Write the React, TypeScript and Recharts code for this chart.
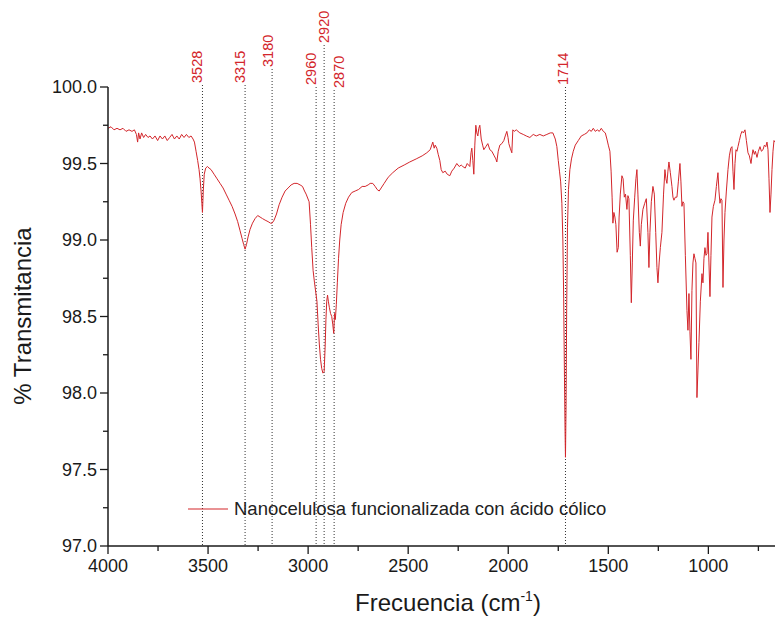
import { LineChart, Line, XAxis, YAxis, ReferenceLine, Legend } from "recharts";

const FONT = '"Liberation Sans", Arial, sans-serif';
const LINE_COLOR = "#d3262b";
const PEAK_COLOR = "#d3262b";
const AXIS_COLOR = "#1a1a1a";

// FTIR spectrum (cm-1 -> %T)
const wavenumbers = [
  4000, 3985, 3970, 3955, 3940, 3925, 3910, 3895, 3880, 3868, 3858, 3852, 3847, 3840, 3832, 3822,
  3812, 3800, 3790, 3778, 3765, 3752, 3740, 3728, 3716, 3704, 3692, 3680, 3668, 3656, 3644, 3632,
  3620, 3608, 3596, 3585, 3575, 3568, 3560, 3552, 3545, 3540, 3535, 3531, 3528, 3524, 3519, 3512,
  3503, 3495, 3485, 3470, 3455, 3440, 3425, 3410, 3395, 3380, 3365, 3352, 3340, 3330, 3322, 3315,
  3308, 3300, 3290, 3278, 3265, 3252, 3240, 3228, 3215, 3200, 3188, 3180, 3170, 3158, 3145, 3130,
  3115, 3100, 3085, 3070, 3055, 3040, 3028, 3018, 3010, 2995, 2988, 2982, 2975, 2968, 2962, 2956,
  2950, 2944, 2938, 2932, 2926, 2920, 2915, 2911, 2907, 2903, 2899, 2894, 2888, 2882, 2877, 2872,
  2868, 2864, 2859, 2854, 2848, 2842, 2835, 2825, 2812, 2798, 2782, 2765, 2748, 2730, 2715, 2700,
  2690, 2677, 2665, 2655, 2645, 2635, 2620, 2600, 2577, 2550, 2520, 2492, 2460, 2430, 2407, 2390,
  2377, 2370, 2365, 2357, 2350, 2342, 2335, 2327, 2315, 2305, 2292, 2282, 2270, 2257, 2245, 2235,
  2227, 2215, 2205, 2192, 2186, 2182, 2177, 2172, 2167, 2162, 2157, 2152, 2147, 2142, 2135, 2128,
  2122, 2112, 2102, 2092, 2082, 2070, 2062, 2057, 2050, 2042, 2032, 2022, 2015, 2007, 2001, 1997,
  1990, 1982, 1977, 1970, 1960, 1942, 1925, 1910, 1892, 1875, 1860, 1842, 1825, 1807, 1790, 1777,
  1765, 1757, 1750, 1744, 1738, 1732, 1727, 1723, 1719, 1716, 1714, 1711, 1708, 1704, 1699, 1692,
  1684, 1675, 1665, 1650, 1635, 1620, 1607, 1595, 1585, 1575, 1565, 1555, 1545, 1535, 1525, 1515,
  1507, 1500, 1492, 1486, 1481, 1477, 1472, 1467, 1462, 1456, 1450, 1446, 1440, 1432, 1426, 1420,
  1414, 1407, 1402, 1397, 1390, 1385, 1380, 1375, 1368, 1362, 1357, 1352, 1345, 1340, 1335, 1327,
  1318, 1310, 1302, 1297, 1292, 1285, 1277, 1270, 1263, 1257, 1252, 1246, 1240, 1232, 1224, 1217,
  1212, 1207, 1202, 1197, 1190, 1182, 1177, 1172, 1165, 1157, 1150, 1142, 1137, 1132, 1127, 1122,
  1115, 1107, 1102, 1097, 1092, 1087, 1082, 1077, 1072, 1067, 1062, 1057, 1052, 1047, 1040, 1032,
  1027, 1022, 1017, 1012, 1007, 1002, 997, 992, 987, 982, 975, 967, 960, 952, 947, 942,
  937, 932, 927, 922, 917, 910, 902, 895, 888, 882, 877, 872, 867, 862, 857, 852,
  845, 838, 832, 825, 817, 810, 802, 795, 787, 782, 777, 770, 765, 757, 750, 742,
  735, 727, 720, 713, 707, 702, 697, 692, 687, 682, 677, 672, 667,
];

const transmittance = [
  99.73, 99.74, 99.72, 99.73, 99.72, 99.73, 99.71, 99.72, 99.71, 99.72, 99.69, 99.64, 99.7, 99.66, 99.7, 99.67,
  99.69, 99.67, 99.68, 99.66, 99.68, 99.65, 99.68, 99.66, 99.68, 99.65, 99.67, 99.69, 99.66, 99.68, 99.66, 99.69,
  99.67, 99.69, 99.67, 99.68, 99.66, 99.64, 99.58, 99.52, 99.46, 99.4, 99.32, 99.24, 99.18, 99.32, 99.43, 99.47,
  99.48, 99.47, 99.46, 99.43, 99.4, 99.37, 99.34, 99.3, 99.26, 99.22, 99.17, 99.12, 99.06, 99.01, 98.97, 98.94,
  98.97, 99.02, 99.07, 99.11, 99.14, 99.16, 99.15, 99.14, 99.13, 99.12, 99.11, 99.11, 99.13, 99.17, 99.23, 99.28,
  99.32, 99.34, 99.36, 99.37, 99.37, 99.36, 99.35, 99.32, 99.3, 99.25, 99.1, 98.95, 98.8, 98.72, 98.66, 98.6,
  98.45, 98.32, 98.22, 98.16, 98.13, 98.14, 98.3, 98.48, 98.6, 98.64, 98.6, 98.56, 98.52, 98.5, 98.45, 98.39,
  98.52, 98.48, 98.58, 98.72, 98.88, 99.0, 99.1, 99.18, 99.24, 99.28, 99.31, 99.32, 99.33, 99.35, 99.35, 99.36,
  99.37, 99.37, 99.35, 99.33, 99.32, 99.34, 99.37, 99.41, 99.44, 99.47, 99.49, 99.51, 99.53, 99.55, 99.57, 99.59,
  99.64, 99.6, 99.62, 99.6, 99.56, 99.52, 99.46, 99.44, 99.45, 99.43, 99.42, 99.45, 99.47, 99.5, 99.48, 99.49,
  99.48, 99.47, 99.5, 99.48, 99.57, 99.6, 99.52, 99.43, 99.62, 99.75, 99.7, 99.68, 99.73, 99.75, 99.66, 99.62,
  99.59, 99.61, 99.63, 99.59, 99.58, 99.55, 99.53, 99.51, 99.58, 99.62, 99.63, 99.65, 99.68, 99.71, 99.67, 99.63,
  99.6, 99.57, 99.72, 99.71, 99.72, 99.7, 99.69, 99.68, 99.67, 99.69, 99.68, 99.69, 99.68, 99.69, 99.7, 99.7,
  99.66, 99.61, 99.52, 99.45, 99.38, 99.24, 99.0, 98.62, 98.1, 97.75, 97.58, 97.92, 98.55, 99.08, 99.33, 99.46,
  99.53, 99.58, 99.62, 99.65, 99.68, 99.69, 99.7, 99.72, 99.71, 99.73, 99.71, 99.72, 99.71, 99.73, 99.71, 99.7,
  99.66, 99.62, 99.58, 99.45, 99.28, 99.11, 99.18, 99.15, 99.1, 98.92, 98.95, 99.15, 99.3, 99.42, 99.4, 99.28,
  99.3, 99.2, 99.29, 99.27, 98.9, 98.59, 98.85, 99.13, 99.28, 99.4, 99.46, 99.3, 99.05, 98.96, 99.1, 99.2,
  99.24, 99.27, 99.05, 98.82, 99.05, 99.25, 99.35, 99.3, 99.05, 98.82, 98.72, 98.85, 98.95, 99.05, 99.3, 99.46,
  99.4, 99.37, 99.45, 99.51, 99.44, 99.35, 99.28, 99.26, 99.28, 99.28, 99.38, 99.5, 99.38, 99.22, 99.25, 99.24,
  98.9, 98.54, 98.41, 98.65, 98.4, 98.22, 98.67, 98.85, 98.91, 98.88, 98.85, 97.97, 98.15, 98.33, 98.6, 98.78,
  98.72, 98.88, 98.95, 98.9, 98.91, 99.05, 98.85, 98.63, 98.9, 99.15, 99.22, 99.26, 99.35, 99.44, 99.32, 99.24,
  99.27, 99.26, 98.69, 99.0, 99.18, 99.32, 99.46, 99.55, 99.6, 99.61, 99.45, 99.33, 99.5, 99.59, 99.58, 99.61,
  99.65, 99.69, 99.71, 99.7, 99.72, 99.65, 99.57, 99.55, 99.5, 99.55, 99.59, 99.56, 99.58, 99.54, 99.58, 99.61,
  99.58, 99.59, 99.62, 99.61, 99.64, 99.59, 99.4, 99.18, 99.3, 99.46, 99.58, 99.65, 99.64,
];

const peaks = [3528, 3315, 3180, 2960, 2920, 2870, 1714];

const xTicks = [4000, 3750, 3500, 3250, 3000, 2750, 2500, 2250, 2000, 1750, 1500, 1250, 1000, 750];
const yTicks = [97, 97.25, 97.5, 97.75, 98, 98.25, 98.5, 98.75, 99, 99.25, 99.5, 99.75, 100];

// where each peak label sits: lift above the plot top and shift from its line (px)
const peakLabelLayout: Record<number, { lift: number; dx: number }> = {
  3528: { lift: 4, dx: -5 },
  3315: { lift: 4, dx: -5 },
  3180: { lift: 20, dx: -4 },
  2960: { lift: 2, dx: -5 },
  2920: { lift: 44, dx: 0 },
  2870: { lift: -1, dx: 5 },
  1714: { lift: 2, dx: -2 },
};

const data = wavenumbers.map((wn, i) => ({ wn, t: transmittance[i] }));

const isMajorY = (v: number) => Math.abs(v * 2 - Math.round(v * 2)) < 1e-6;

function XTick({ x, y, payload }: any) {
  const major = payload.value % 500 === 0;
  return (
    <g>
      <line x1={x} x2={x} y1={y} y2={y + (major ? 8 : 5)} stroke={AXIS_COLOR} strokeWidth={1.3} />
      {major && (
        <text x={x} y={y + 26} textAnchor="middle" fontSize={18} fontFamily={FONT} fill={AXIS_COLOR}>
          {payload.value}
        </text>
      )}
    </g>
  );
}

function YTick({ x, y, payload }: any) {
  const major = isMajorY(payload.value);
  return (
    <g>
      <line x1={x - (major ? 8 : 5)} x2={x} y1={y} y2={y} stroke={AXIS_COLOR} strokeWidth={1.3} />
      {major && (
        <text
          x={x - 11}
          y={y}
          textAnchor="end"
          dominantBaseline="central"
          fontSize={18}
          fontFamily={FONT}
          fill={AXIS_COLOR}
        >
          {payload.value.toFixed(1)}
        </text>
      )}
    </g>
  );
}

const peakShape = (value: number) => (p: any) => {
  const { lift, dx } = peakLabelLayout[value];
  const top = Math.min(p.y1, p.y2);
  const bottom = Math.max(p.y1, p.y2);
  const labelBase = top - lift;
  return (
    <g>
      <line
        x1={p.x1}
        x2={p.x1}
        y1={labelBase + 2}
        y2={bottom}
        stroke="#333"
        strokeWidth={1}
        strokeDasharray="1 2"
      />
      <text
        transform={`translate(${p.x1 + dx},${labelBase}) rotate(-90)`}
        textAnchor="start"
        dominantBaseline="central"
        fontSize={14.5}
        fontFamily={FONT}
        fill={PEAK_COLOR}
      >
        {value}
      </text>
    </g>
  );
};

const renderLegend = () => (
  <div
    style={{
      display: "flex",
      alignItems: "center",
      fontFamily: FONT,
      fontSize: 18.5,
      color: "#222",
      whiteSpace: "nowrap",
    }}
  >
    <svg width={46} height={12} style={{ marginRight: 3 }}>
      <line x1={3} x2={43} y1={6} y2={6} stroke={LINE_COLOR} strokeWidth={1.2} />
    </svg>
    <span>Nanocelulosa funcionalizada con ácido cólico</span>
  </div>
);

export default function App() {
  return (
    <div style={{ position: "absolute", left: 0, top: 0, background: "#fff" }}>
      <LineChart width={775} height={620} data={data} margin={{ top: 87, right: 0, bottom: 0, left: 0 }}>
        <XAxis
          dataKey="wn"
          type="number"
          domain={[667, 4000]}
          reversed
          allowDataOverflow
          ticks={xTicks}
          interval={0}
          tick={<XTick />}
          tickLine={false}
          tickSize={0}
          tickMargin={0}
          height={74}
          axisLine={{ stroke: AXIS_COLOR, strokeWidth: 1.5 }}
          label={{
            content: () => (
              <text x={448} y={611} textAnchor="middle" fontSize={24} fontFamily={FONT} fill={AXIS_COLOR}>
                Frecuencia (cm
                <tspan dy={-10} fontSize={14}>
                  -1
                </tspan>
                <tspan dy={10}>)</tspan>
              </text>
            ),
          }}
        />
        <YAxis
          type="number"
          domain={[97, 100]}
          allowDataOverflow
          ticks={yTicks}
          interval={0}
          tick={<YTick />}
          tickLine={false}
          tickSize={0}
          tickMargin={0}
          width={108}
          axisLine={{ stroke: AXIS_COLOR, strokeWidth: 1.5 }}
          label={{
            content: () => (
              <text
                transform="translate(22,316) rotate(-90)"
                textAnchor="middle"
                dominantBaseline="central"
                fontSize={24}
                fontFamily={FONT}
                fill={AXIS_COLOR}
              >
                % Transmitancia
              </text>
            ),
          }}
        />
        {peaks.map((pk) => (
          <ReferenceLine key={pk} x={pk} shape={peakShape(pk)} />
        ))}
        <Line
          type="linear"
          dataKey="t"
          stroke={LINE_COLOR}
          strokeWidth={1}
          dot={false}
          activeDot={false}
          isAnimationActive={false}
        />
        <Legend
          layout="horizontal"
          verticalAlign="middle"
          align="center"
          content={renderLegend}
          wrapperStyle={{ left: 185, top: 498, width: "auto" }}
        />
      </LineChart>
    </div>
  );
}
